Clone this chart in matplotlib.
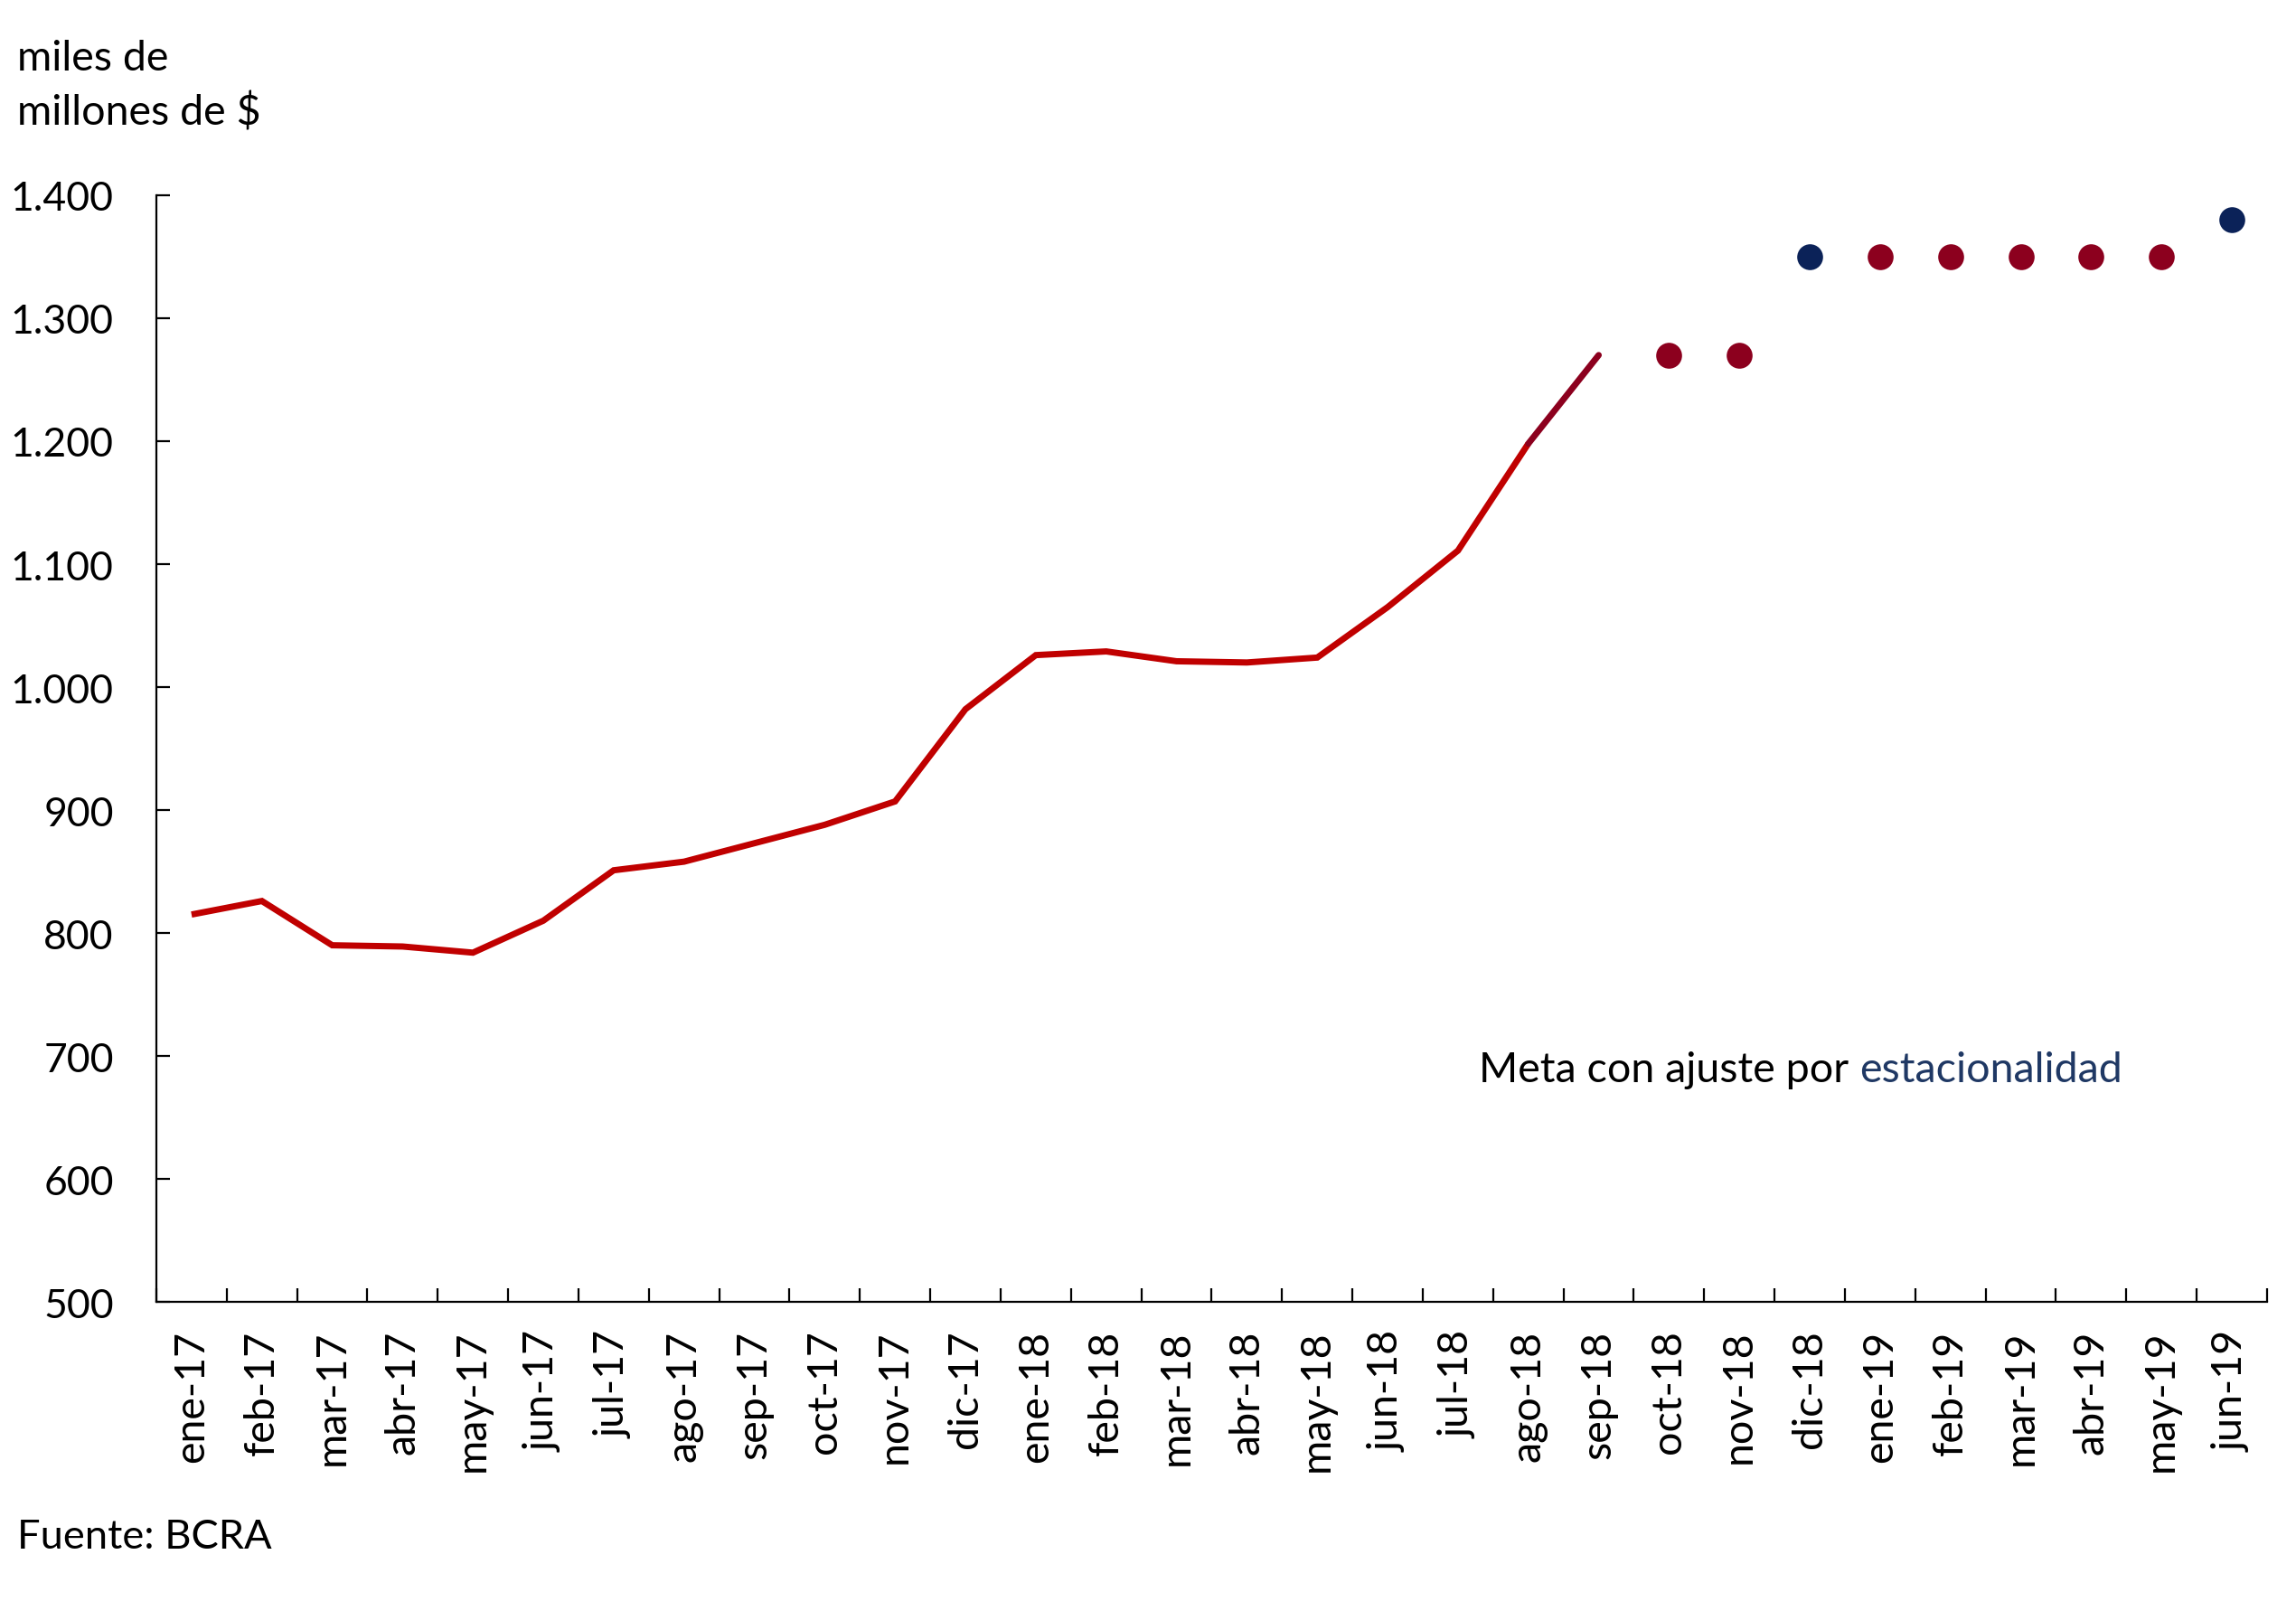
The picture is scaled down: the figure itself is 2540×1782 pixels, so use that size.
import numpy as np
import matplotlib
matplotlib.use("Agg")
import matplotlib.pyplot as plt

# Meses del eje x
meses = ["ene-17", "feb-17", "mar-17", "abr-17", "may-17", "jun-17", "jul-17",
         "ago-17", "sep-17", "oct-17", "nov-17", "dic-17", "ene-18", "feb-18",
         "mar-18", "abr-18", "may-18", "jun-18", "jul-18", "ago-18", "sep-18",
         "oct-18", "nov-18", "dic-18", "ene-19", "feb-19", "mar-19", "abr-19",
         "may-19", "jun-19"]

# Serie observada (ene-17 a ago-18), miles de millones de $
observado = [815, 826, 790, 789, 784, 810, 851, 858, 873, 888, 907, 982,
             1026, 1029, 1021, 1020, 1024, 1065, 1111, 1198]

# Tramo ago-18 a sep-18
tramo_meses = ["ago-18", "sep-18"]
tramo_valores = [1198, 1270]

# Metas (puntos)
meta_rojo_meses = ["oct-18", "nov-18", "ene-19", "feb-19", "mar-19", "abr-19", "may-19"]
meta_rojo_valores = [1270, 1270, 1350, 1350, 1350, 1350, 1350]
meta_azul_meses = ["dic-18", "jun-19"]
meta_azul_valores = [1350, 1380]

ROJO = "#C00000"
BORDO = "#8C001E"
AZUL = "#0B2258"

plt.rcParams["font.family"] = ["Lato", "DejaVu Sans"]

fig = plt.figure(figsize=(12.7, 8.915), dpi=200)
ax = fig.add_axes([0.0681, 0.1918, 0.9193, 0.6865])

pos = {m: i for i, m in enumerate(meses)}

ax.plot(range(len(observado)), observado, color=ROJO, lw=2.5,
        solid_joinstyle="miter", solid_capstyle="butt")
ax.plot([pos[m] for m in tramo_meses], tramo_valores, color=BORDO, lw=2.5,
        solid_capstyle="round")
ax.plot([pos[m] for m in meta_rojo_meses], meta_rojo_valores, "o", color=BORDO,
        ms=10.3, mew=0)
ax.plot([pos[m] for m in meta_azul_meses], meta_azul_valores, "o", color=AZUL,
        ms=10.3, mew=0)

ax.set_xlim(-0.5, len(meses) - 0.5)
ax.set_ylim(500, 1400)

ax.set_yticks(np.arange(500, 1401, 100))
ax.set_yticklabels([f"{v:,}".replace(",", ".") for v in range(500, 1401, 100)])

# ticks en los bordes de cada categoria, etiquetas al centro
ax.set_xticks(np.arange(-0.5, len(meses), 1.0))
ax.set_xticklabels([])
ax.set_xticks(np.arange(len(meses)), minor=True)
ax.set_xticklabels(meses, minor=True, rotation=90)

ax.tick_params(axis="y", direction="in", length=5.5, width=0.8, pad=17,
               labelsize=16)
ax.tick_params(axis="x", which="major", direction="in", length=5.5, width=0.8)
ax.tick_params(axis="x", which="minor", length=0, pad=11, labelsize=16.8)

for s in ["top", "right"]:
    ax.spines[s].set_visible(False)
for s in ["left", "bottom"]:
    ax.spines[s].set_linewidth(0.8)

fig.text(0.0075, 0.9635, "miles de", fontsize=16.8, va="center", ha="left")
fig.text(0.0075, 0.93, "millones de $", fontsize=16.8, va="center", ha="left")
fig.text(0.0075, 0.046, "Fuente: BCRA", fontsize=16.3, va="center", ha="left")

t1 = fig.text(0.644, 0.336, "Meta con ajuste por ", fontsize=16.8,
              va="center", ha="left")
ax.annotate("estacionalidad", xy=(1, 0), xycoords=t1, va="bottom", ha="left",
            fontsize=16.8, color="#1F3864")

fig.savefig("out.png", dpi=200)
